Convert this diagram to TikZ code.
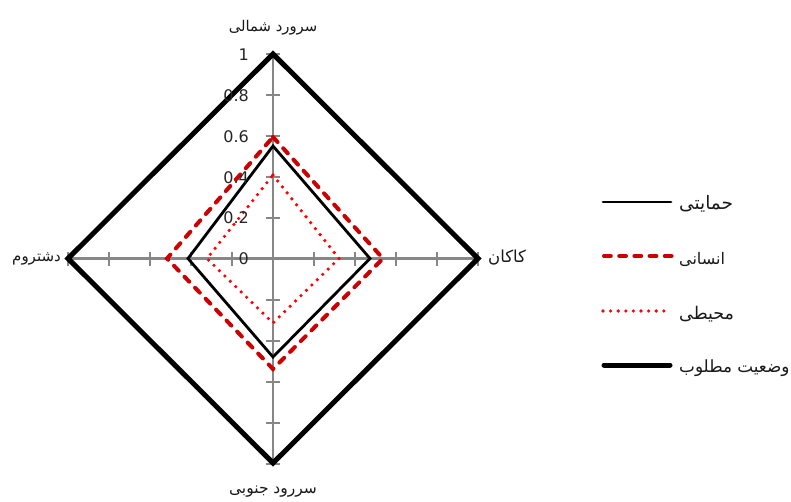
\documentclass[tikz,border=0pt]{standalone}
\usepackage{fontspec}
\setmainfont{DejaVu Sans}
\newfontfamily\arabicfont[Script=Arabic]{DejaVu Sans}
\TeXXeTstate=1
\tikzset{
  x=1pt,y=-1pt,
  axisline/.style={draw=black!47,line width=2.6pt},
  tickline/.style={draw=black!47,line width=2pt},
  protect/.style={draw=black,line width=2.8pt,line join=miter},
  human/.style={draw=red!80!black,line width=4pt,line cap=round,dash pattern=on 6.8pt off 8.4pt,line join=miter},
  enviro/.style={draw=red,line width=3.6pt,line cap=round,dash pattern=on 0pt off 7.6pt,line join=round},
  target/.style={draw=black,line width=5pt,line join=miter},
  legendcap/.style={line cap=round},
  tickval/.style={font=\fontsize{16}{18}\selectfont,text=black!85,anchor=east,inner sep=0pt},
  falabel/.style={font=\arabicfont\fontsize{#1}{20}\selectfont,inner sep=0pt,text=black!90},
  falabel/.default=16.5,
}
\newcommand{\fa}[1]{\beginR #1\endR}
\begin{document}
\begin{tikzpicture}
\useasboundingbox (0,0) rectangle (791,501);
\fill[white] (0,0) rectangle (791,501);
\coordinate (N) at (273,54);
\coordinate (S) at (273,463);
\coordinate (W) at (68,258.5);
\coordinate (E) at (478,258.5);
\draw[axisline] (N) -- (S);
\draw[axisline] (W) -- (E);
\foreach \d in {-205,-164,-123,-82,-41,41,82,123,164,205}{
  \draw[tickline] (266,258.5+\d) -- (280,258.5+\d);
  \draw[tickline] (273+\d,251.5) -- (273+\d,265.5);
}
\draw[protect] (273,146) -- (370,258.5) -- (273,357) -- (188,258.5) -- cycle;
\draw[human] (273,137) -- (383,258.5) -- (273,369) -- (167,258.5) -- cycle;
\draw[enviro] (273,175) -- (339,258.5) -- (273,323) -- (207,258.5) -- cycle;
\draw[target] (N) -- (E) -- (S) -- (W) -- cycle;
\node[tickval] (t1) at (249,55) {1};
\node[tickval] (t08) at (249,96) {0.8};
\node[tickval] (t06) at (249,137) {0.6};
\node[tickval] (t04) at (249,178) {0.4};
\node[tickval] (t02) at (249,218) {0.2};
\node[tickval] (t0) at (249,259) {0};
\node[falabel=14.8] (ln) at (273,28) {\fa{سرورد شمالی}};
\node[falabel=15.5] (ls) at (273,492) {\fa{سررود جنوبی}};
\node[falabel=15,anchor=east] (lw) at (61,259) {\fa{دشتروم}};
\node[falabel,anchor=west] (le) at (488,258) {\fa{کاکان}};
\draw[protect,legendcap] (603,202) -- (671,202);
\draw[human] (604,256) -- (672,256);
\draw[enviro] (603,311) -- (668,311);
\draw[target,legendcap] (604,365) -- (670,365);
\node[falabel=18.5,anchor=west] (l1) at (679,204) {\fa{حمایتی}};
\node[falabel=16,anchor=west] (l2) at (679,259) {\fa{انسانی}};
\node[falabel=17.5,anchor=west] (l3) at (679,314) {\fa{محیطی}};
\node[falabel=16.8,anchor=west] (l4) at (679,368) {\fa{وضعیت مطلوب}};
\end{tikzpicture}
\end{document}
